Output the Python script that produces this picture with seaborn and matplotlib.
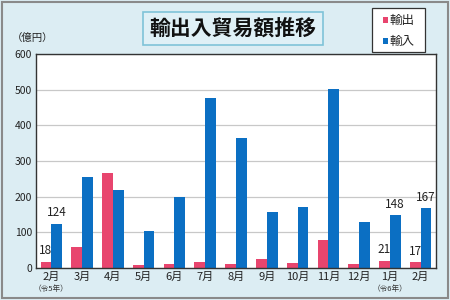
import matplotlib
matplotlib.use("Agg")
import matplotlib.pyplot as plt
import seaborn as sns
import pandas as pd
from matplotlib.patches import FancyBboxPatch, Rectangle
import matplotlib.transforms as mtransforms

months = ["2月", "3月", "4月", "5月", "6月", "7月", "8月", "9月", "10月", "11月", "12月", "1月", "2月"]
exports = [18, 58, 265, 8, 12, 17, 12, 25, 15, 78, 12, 21, 17]
imports = [124, 255, 218, 105, 200, 478, 365, 157, 172, 503, 130, 148, 167]
series_names = ["輸出", "輸入"]
yticks = [0, 100, 200, 300, 400, 500, 600]
labeled = {0: (18, 124), 11: (21, 148), 12: (17, 167)}
sub_labels = {0: "（令5年）", 11: "（令6年）"}

sns.set_theme(style="white")
plt.rcParams['font.family'] = ['Noto Sans CJK JP', 'DejaVu Sans']

keys = [f"{i}" for i in range(len(months))]
df = pd.DataFrame({
    "key": keys * 2,
    "value": exports + imports,
    "type": [series_names[0]] * len(months) + [series_names[1]] * len(months),
})

bg = "#dcedf3"
fig = plt.figure(figsize=(4.5, 3.0), dpi=100, facecolor=bg)
fig.patches.append(Rectangle((0.004, 0.006), 0.992, 0.988, transform=fig.transFigure,
                             fill=False, edgecolor="#8a8a8a", linewidth=1.5))
ax = fig.add_axes([36/450, 1 - 268/300, 400/450, 214/300])
ax.set_facecolor("white")

sns.barplot(data=df, x="key", y="value", hue="type", order=keys,
            palette={"輸出": "#e8456e", "輸入": "#0b6fc3"}, width=0.70,
            edgecolor="none", saturation=1, ax=ax, legend=False)

ax.set_ylim(0, 600)
ax.set_xlim(-0.5, len(months) - 0.5)
ax.set_yticks(yticks)
ax.set_yticklabels([str(t) for t in yticks], fontsize=7.5, color="#222222")
ax.set_xticks(range(len(months)))
ax.set_xticklabels(months, fontsize=8, color="#222222")
ax.tick_params(axis="both", length=0, pad=3)
ax.set_xlabel("")
ax.set_ylabel("")
ax.yaxis.grid(True, color="#c8c8c8", linewidth=0.9)
ax.set_axisbelow(True)
for s in ax.spines.values():
    s.set_color("#333333")
    s.set_linewidth(1.0)

off = 0.70 / 4
for i, (e, m) in labeled.items():
    ax.text(i - off, e + 12, str(e), ha="center", va="bottom", fontsize=8.5, color="#222222")
    ax.text(i + off, m + 12, str(m), ha="center", va="bottom", fontsize=8.5, color="#222222")

trans = mtransforms.blended_transform_factory(ax.transData, fig.transFigure)
for i, t in sub_labels.items():
    ax.text(i, 1 - 289/300, t, ha="center", va="center", fontsize=5.5, color="#333333", transform=trans)

fig.text(12/450, 1 - 38/300, "（億円）", ha="left", va="center", fontsize=7.5, color="#222222")

# Title box
fig.patches.append(FancyBboxPatch((143/450, 1 - 45/300), 180/450, 33/300, transform=fig.transFigure,
                                  boxstyle="square,pad=0", facecolor="#dff0f6", edgecolor="#7fc3d8",
                                  linewidth=1.2))
fig.text(233/450, 1 - 28.5/300, "輸出入貿易額推移", ha="center", va="center", fontsize=15,
         fontweight="bold", color="#111111")

# Legend box
fig.patches.append(Rectangle((372/450, 1 - 52/300), 53/450, 44/300, transform=fig.transFigure,
                             facecolor="white", edgecolor="#333333", linewidth=0.9))
for j, (name, col) in enumerate(zip(series_names, ["#e8456e", "#0b6fc3"])):
    yy = 1 - (20 + j * 21) / 300
    fig.patches.append(Rectangle((383/450, yy - 2.5/300), 5/450, 5/300, transform=fig.transFigure,
                                 facecolor=col, edgecolor="none"))
    fig.text(390/450, yy, name, ha="left", va="center", fontsize=9, color="#222222")

fig.savefig("out.png", dpi=100, facecolor=bg)
